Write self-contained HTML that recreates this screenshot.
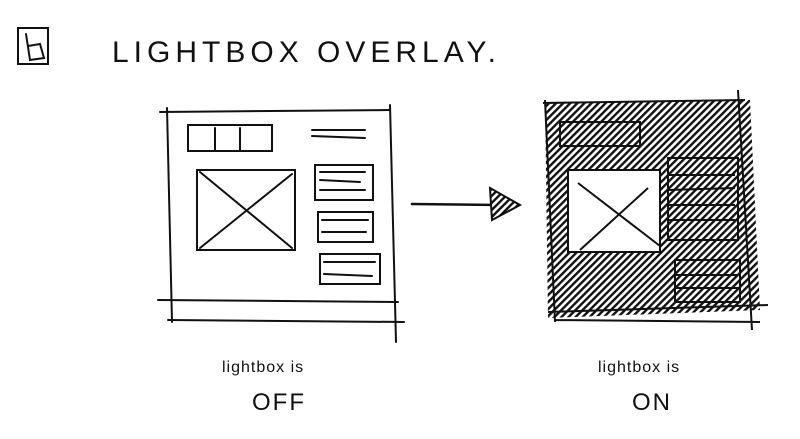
<!DOCTYPE html>
<html><head><style>
html,body{margin:0;padding:0;background:#fff;width:800px;height:439px;overflow:hidden}
svg{display:block}
text{font-family:"Liberation Sans",sans-serif;fill:#111}
</style></head><body>
<svg width="800" height="439" viewBox="0 0 800 439" xmlns="http://www.w3.org/2000/svg">
<defs>
<pattern id="h" width="5" height="5" patternUnits="userSpaceOnUse" patternTransform="rotate(-45)">
<rect width="5" height="5" fill="#fff"/>
<rect width="5" height="2.4" fill="#111"/>
</pattern>
</defs>
<g stroke="#111" fill="none" stroke-width="2" stroke-linecap="round">
<rect x="18" y="28" width="30" height="36"/>
<path d="M26 34 L30 60 L44 58 L40 44 L28 46"/>
<path d="M160 112 L390 110"/>
<path d="M167 108 L172 322"/>
<path d="M390 105 L396 342"/>
<path d="M158 300 L398 302"/>
<path d="M168 320 L404 322"/>
<rect x="197" y="170" width="98" height="80"/>
<path d="M200 172 L292 248 M200 248 L292 174"/>
<rect x="188" y="125" width="84" height="26"/>
<path d="M215 128 V150 M240 128 V150"/>
<path d="M312 130 L365 130 M312 136 L365 138"/>
<rect x="315" y="165" width="58" height="35"/>
<path d="M320 172 L365 172 M320 180 L360 182 M320 190 L365 190"/>
<rect x="318" y="212" width="55" height="30"/>
<path d="M322 220 L368 220 M322 232 L366 232"/>
<rect x="320" y="254" width="60" height="30"/>
<path d="M324 262 L375 262 M324 274 L372 276"/>
<path d="M412 204 L500 205" stroke-width="2.5"/>
</g>
<path d="M490 188 L520 205 L492 220 Z" fill="url(#h)" stroke="#111" stroke-width="2"/>
<path d="M545 102 L750 100 L760 310 L548 318 Z" fill="url(#h)"/>
<rect x="568" y="170" width="92" height="82" fill="#fff" stroke="#111" stroke-width="2"/>
<g stroke="#111" stroke-width="2" fill="none">
<path d="M578 183 L660 246 M580 250 L648 188"/>
<path d="M543 103 L745 100 M738 90 L752 330 M545 100 L555 322 M548 312 L768 305 M555 320 L760 322"/>
<rect x="668" y="158" width="70" height="82"/>
<rect x="675" y="260" width="65" height="42"/>
<rect x="560" y="122" width="80" height="24"/>
<path d="M668 175 L735 175 M668 190 L735 188 M668 205 L735 205 M668 220 L735 220 M675 275 L738 275 M675 288 L738 288"/>
</g>
<text x="112" y="62" font-size="30" letter-spacing="5">LIGHTBOX OVERLAY.</text>
<text x="222" y="372" font-size="16" letter-spacing="1">lightbox is</text>
<text x="252" y="410" font-size="24" letter-spacing="2">OFF</text>
<text x="598" y="372" font-size="16" letter-spacing="1">lightbox is</text>
<text x="632" y="410" font-size="24" letter-spacing="2">ON</text>
</svg>
</body></html>
